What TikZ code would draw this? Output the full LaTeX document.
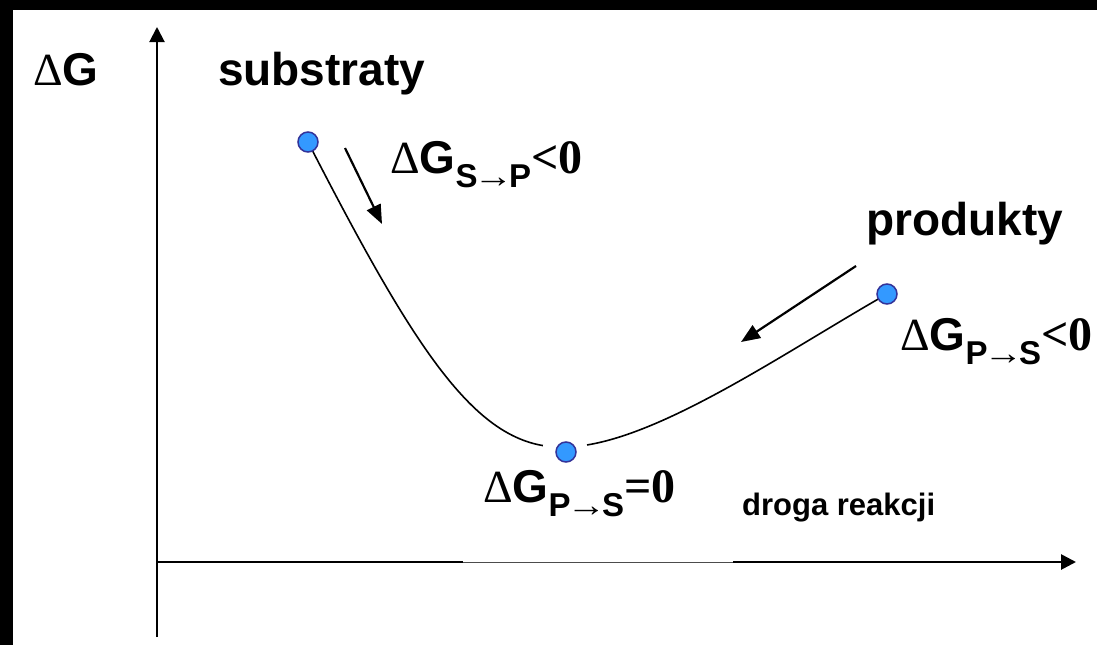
\documentclass[tikz,border=0pt]{standalone}
\usepackage{fontspec}
\setmainfont{Liberation Sans}
\newfontfamily\tnrf{Liberation Serif}
\usetikzlibrary{arrows.meta}
\definecolor{dotblue}{HTML}{3399FF}
\definecolor{dotborder}{HTML}{333399}
\newcommand{\dGsub}[3]{{\tnrf\mdseries Δ}G\raisebox{-14pt}{\fontsize{33}{33}\selectfont #1\kern-4pt\scalebox{1.2}[1]{\tnrf\mdseries →}\kern-4pt#2}{\fontsize{48}{48}\selectfont\tnrf #3}}
\begin{document}
\begin{tikzpicture}[x=1pt,y=-1pt,
  lbl/.style={anchor=base west,inner sep=0pt,font=\fontsize{46}{50}\selectfont\bfseries},
  smalllbl/.style={anchor=base west,inner sep=0pt,font=\fontsize{31}{34}\selectfont\bfseries},
  dot/.style={circle,fill=dotblue,draw=dotborder,line width=1.5pt,minimum size=20pt,inner sep=0pt},
  curveline/.style={line width=1.6pt},
  flow/.style={line width=2.2pt,-{Triangle[length=19pt,width=15pt]}},
  axisarrow/.style={-{Triangle[length=15pt,width=15pt]}}]
\fill[white] (0,0) rectangle (1097,645);
\useasboundingbox (0,0) rectangle (1097,645);
\fill[black] (0,0) rectangle (1097,10);
\fill[black] (0,0) rectangle (13,645);
% axes
\coordinate (ytop) at (157,27);
\coordinate (ybot) at (157,637);
\draw[line width=2pt,axisarrow] (ybot) -- (ytop);
\coordinate (o) at (157,562);
\coordinate (x1) at (463,562);
\coordinate (x2) at (733,562);
\coordinate (xend) at (1076,562);
\draw[line width=2.7pt] (o) -- (x1);
\draw[line width=1pt,black!70] (x1) -- (x2);
\draw[line width=2.7pt,axisarrow] (x2) -- (xend);
% curve
\coordinate (sP) at (308,142);
\coordinate (mP) at (566,452);
\coordinate (pP) at (887,294);
\coordinate (bot) at (565,447);
\draw[curveline] (sP) .. controls (420,360) and (480,450) .. (bot) .. controls (650,446) and (780,355) .. (pP);
\fill[white] (bot) circle (22);
\node[dot] (s) at (sP) {};
\node[dot] (m) at (mP) {};
\node[dot] (p) at (pP) {};
% direction arrows
\coordinate (a1s) at (345,148);
\coordinate (a1e) at (382,224);
\draw[flow] (a1s) -- (a1e);
\coordinate (a2s) at (856,266);
\coordinate (a2e) at (741,342);
\draw[flow] (a2s) -- (a2e);
% labels
\node[lbl] (dg) at (33,85) {{\tnrf\mdseries Δ}G};
\node[lbl] (substr) at (218,85) {substraty};
\node[lbl] (prod) at (866,235) {produkty};
\node[smalllbl] (droga) at (742,515) {droga reakcji};
\node[lbl] (gsp) at (390,173) {\dGsub{S}{P}{<0}};
\node[lbl] (gps) at (900,350) {\dGsub{P}{S}{<0}};
\node[lbl] (geq) at (483,502) {\dGsub{P}{S}{=0}};
\end{tikzpicture}
\end{document}
